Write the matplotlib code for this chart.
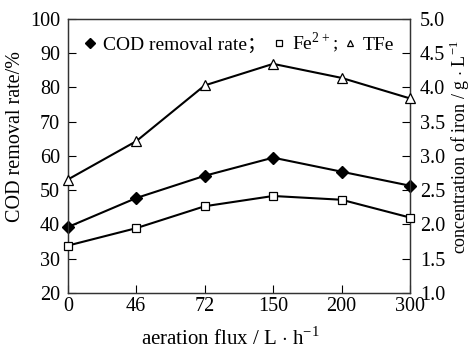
import matplotlib.pyplot as plt
import numpy as np

plt.rcParams['font.family'] = ['Liberation Serif', 'Noto Sans CJK SC']
plt.rcParams['mathtext.fontset'] = 'custom'
plt.rcParams['mathtext.rm'] = 'Liberation Serif'

flux = ['0', '46', '72', '150', '200', '300']
cod_rate = [39.2, 47.7, 54.2, 59.5, 55.4, 51.3]
fe2 = [1.69, 1.945, 2.265, 2.415, 2.36, 2.10]
tfe = [2.655, 3.215, 4.03, 4.345, 4.14, 3.84]

x = np.arange(len(flux))

fig, ax1 = plt.subplots(figsize=(4.74, 3.52), dpi=100)
fig.subplots_adjust(left=0.143, right=0.865, top=0.946, bottom=0.168)
ax2 = ax1.twinx()

ax1.plot(x, cod_rate, color='black', lw=1.5, marker='D', ms=6,
         mfc='black', clip_on=False, zorder=5)
ax2.plot(x, fe2, color='black', lw=1.5, marker='s', ms=6,
         mfc='white', mew=0.9, clip_on=False, zorder=5)
ax2.plot(x, tfe, color='black', lw=1.5, marker='^', ms=6.5,
         mfc='white', mew=0.9, clip_on=False, zorder=5)

ax1.set_xlim(0, len(flux) - 1)
ax1.set_ylim(20, 100)
ax2.set_ylim(1.0, 5.0)
ax1.set_xticks(x)
ax1.set_xticklabels(flux)
ax1.set_yticks(np.arange(20, 101, 10))
ax2.set_yticks(np.arange(1.0, 5.01, 0.5))
ax2.set_yticklabels(['%.1f' % v for v in np.arange(1.0, 5.01, 0.5)])

for a in (ax1, ax2):
    a.tick_params(direction='in', length=6, width=0.8, labelsize=14.5,
                  colors='black')
    for s in a.spines.values():
        s.set_linewidth(0.9)
        s.set_color('#333333')
ax1.tick_params(axis='x', pad=3)
ax1.tick_params(axis='y', pad=5.5)
ax2.tick_params(axis='y', pad=7)

ax1.set_xlabel('aeration flux / L $\\cdot$ h$^{-1}$', fontsize=15)
ax1.xaxis.set_label_coords(0.475, -0.125)
ax1.set_ylabel('COD removal rate/%', fontsize=14.5)
ax1.yaxis.set_label_coords(-0.125, 0.57)
ax2.set_ylabel('concentration of iron / g $\\cdot$ L$^{-1}$', fontsize=13)
ax2.yaxis.set_label_coords(1.112, 0.533)

h1 = plt.Line2D([], [], ls='none', marker='D', ms=5, color='black')
h2 = plt.Line2D([], [], ls='none', marker='s', ms=4.5, mfc='white',
                color='black', mew=0.9)
h3 = plt.Line2D([], [], ls='none', marker='^', ms=5, mfc='white',
                color='black', mew=0.9)
ax1.legend([h1, h2, h3], ['COD removal rate；', 'Fe$^{2+}$;', 'TFe'],
           loc='upper left', bbox_to_anchor=(0.015, 1.0), ncol=3,
           frameon=False, fontsize=14, handlelength=0.6,
           handletextpad=0.35, columnspacing=0.35, borderaxespad=0.2)

plt.savefig('out.png', dpi=100)
